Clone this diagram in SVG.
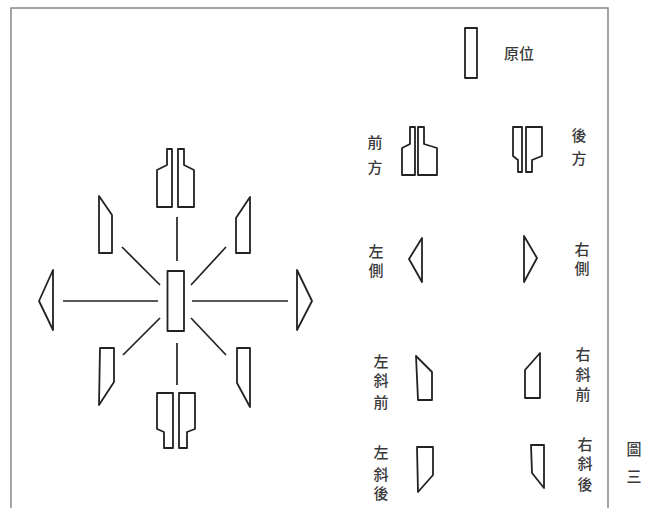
<svg xmlns="http://www.w3.org/2000/svg" width="655" height="514" viewBox="0 0 655 514">
<style>
.s{fill:none;stroke:#222;stroke-width:1.8;stroke-linejoin:round}
.c{stroke:#222;stroke-width:1.7}
.t{font-family:"Noto Sans CJK TC","Noto Sans CJK SC",sans-serif;font-size:15px;font-weight:500;fill:#3a3a3a;text-anchor:middle}
</style>
<rect width="655" height="514" fill="#fff"/>
<path d="M11,508 L11,8 L608,8 L608,508" fill="none" stroke="#888" stroke-width="1.5"/>
<g id="connectors">
<line class="c" x1="63" y1="301" x2="158" y2="301"/>
<line class="c" x1="192" y1="301" x2="288" y2="301"/>
<line class="c" x1="177" y1="217" x2="177" y2="261"/>
<line class="c" x1="177" y1="343" x2="177" y2="385"/>
<line class="c" x1="122" y1="247" x2="160" y2="285"/>
<line class="c" x1="226" y1="247" x2="191" y2="285"/>
<line class="c" x1="160" y1="318" x2="123" y2="355"/>
<line class="c" x1="191" y1="318" x2="226" y2="355"/>
</g>
<g id="center"><rect class="s" x="167.5" y="271" width="16.5" height="60"/></g>
<g id="front">
<path class="s" d="M157,207 L157,170 L167,165 L167,149 L172,149 L172,207 Z"/>
<path class="s" d="M178,207 L178,149 L184,149 L184,165 L194,170 L194,207 Z"/>
</g>
<g id="back">
<path class="s" d="M157,393 L173,393 L173,448 L164,448 L164,432 L157,429 Z"/>
<path class="s" d="M179,393 L195,393 L195,429 L187,432 L187,448 L179,448 Z"/>
</g>
<g id="left"><path class="s" d="M53,270 L39,301 L53,330 Z"/></g>
<g id="right"><path class="s" d="M297,270 L312,301 L297,330 Z"/></g>
<g id="left-front"><path class="s" d="M99,196 L112,215 L112,253 L99,253 Z"/></g>
<g id="right-front"><path class="s" d="M250,197 L236,218 L236,253 L250,253 Z"/></g>
<g id="left-back"><path class="s" d="M100,348 L114,348 L114,382 L99,405 Z"/></g>
<g id="right-back"><path class="s" d="M237,348 L250,348 L250,407 L237,383 Z"/></g>
<g id="legend-origin">
<rect class="s" x="465" y="28" width="12" height="50"/>
<text class="t" x="519" y="59" font-size="16">原位</text>
</g>
<g id="legend-front">
<path class="s" d="M402,175 L402,148 L410,144 L410,127 L415,127 L415,175 Z"/>
<path class="s" d="M418,175 L418,127 L424,127 L424,144 L437,148 L437,175 Z"/>
<text class="t"><tspan x="375" y="148">前</tspan><tspan x="375" y="173">方</tspan></text>
</g>
<g id="legend-back">
<path class="s" d="M513,127 L522,127 L522,172 L518,172 L518,160 L513,156 Z"/>
<path class="s" d="M526,127 L542,127 L542,156 L532,160 L532,172 L526,172 Z"/>
<text class="t"><tspan x="579" y="141">後</tspan><tspan x="579" y="164">方</tspan></text>
</g>
<g id="legend-left">
<path class="s" d="M422,238 L409,259 L422,282 Z"/>
<text class="t"><tspan x="376" y="257">左</tspan><tspan x="376" y="276">側</tspan></text>
</g>
<g id="legend-right">
<path class="s" d="M524,236 L537,258 L524,282 Z"/>
<text class="t"><tspan x="582" y="255">右</tspan><tspan x="582" y="274">側</tspan></text>
</g>
<g id="legend-left-front">
<path class="s" d="M416,356 L432,372 L432,400 L418,400 Z"/>
<text class="t"><tspan x="381" y="367">左</tspan><tspan x="381" y="386">斜</tspan><tspan x="381" y="408">前</tspan></text>
</g>
<g id="legend-right-front">
<path class="s" d="M540,353 L525,370 L525,398 L540,398 Z"/>
<text class="t"><tspan x="583" y="360">右</tspan><tspan x="583" y="380">斜</tspan><tspan x="583" y="400">前</tspan></text>
</g>
<g id="legend-left-back">
<path class="s" d="M417,447 L433,447 L433,475 L418,492 Z"/>
<text class="t"><tspan x="381" y="458">左</tspan><tspan x="381" y="480">斜</tspan><tspan x="381" y="499">後</tspan></text>
</g>
<g id="legend-right-back">
<path class="s" d="M531,445 L544,445 L544,488 L532,473 Z"/>
<text class="t"><tspan x="585" y="450">右</tspan><tspan x="585" y="469">斜</tspan><tspan x="585" y="490">後</tspan></text>
</g>
<g id="caption">
<text class="t" font-size="16"><tspan x="634" y="455">圖</tspan><tspan x="634" y="482">三</tspan></text>
</g>
</svg>
